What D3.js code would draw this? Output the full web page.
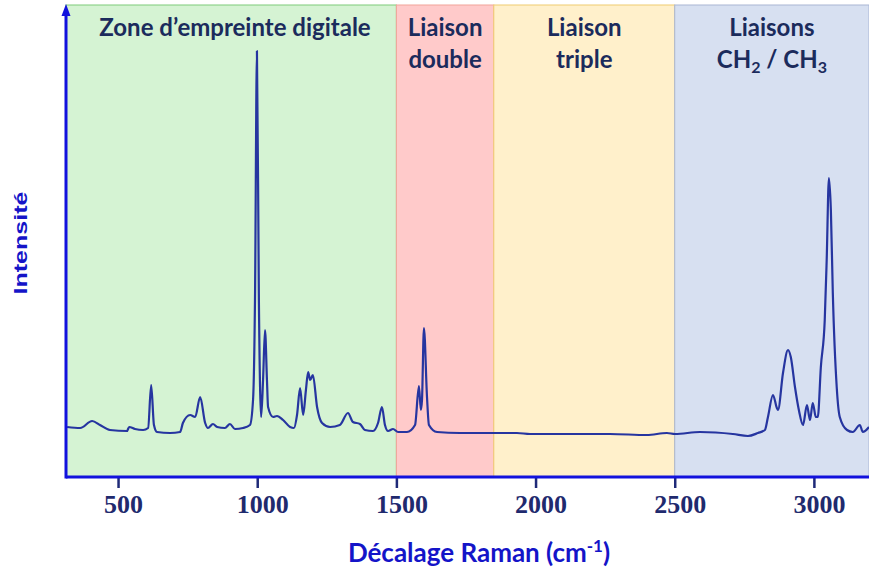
<!DOCTYPE html>
<html>
<head>
<meta charset="utf-8">
<script src="https://cdn.jsdelivr.net/npm/d3@7"></script>
<style>
  body { margin: 0; background: #fff; }
  svg { display: block; }
</style>
</head>
<body>
<script>
// Raman shift (cm-1) and intensity (arbitrary units)
var shift = [317, 364, 407, 435, 471, 532, 540, 561, 590, 608, 619, 629, 640, 687, 723, 733, 759, 777, 795, 813,
  823, 841, 856, 884, 902, 920, 949, 974, 985, 992, 999, 1006, 1014, 1021, 1028, 1035, 1039, 1057, 1071, 1093,
  1118, 1132, 1143, 1154, 1165, 1175, 1183, 1190, 1200, 1215, 1233, 1262, 1297, 1326, 1344, 1369, 1387, 1416, 1434, 1448,
  1459, 1470, 1488, 1506, 1538, 1567, 1581, 1588, 1592, 1599, 1610, 1617, 1646, 1728, 1800, 1854, 1933, 1980, 2113, 2267,
  2400, 2472, 2501, 2591, 2709, 2763, 2799, 2824, 2835, 2853, 2867, 2871, 2889, 2907, 2917, 2932, 2946, 2961, 2975, 2986,
  2996, 3007, 3014, 3025, 3039, 3046, 3054, 3061, 3068, 3082, 3093, 3119, 3140, 3165, 3176, 3198];
var intensity = [51, 50, 57, 53, 48, 47, 51, 49, 48, 50, 93, 53, 46, 45, 46, 55, 63, 61, 81, 55,
  50, 54, 51, 50, 54, 49, 50, 53, 78, 178, 427, 178, 61, 98, 148, 98, 71, 61, 62, 58,
  51, 50, 63, 90, 63, 88, 106, 98, 103, 71, 55, 51, 53, 65, 56, 54, 48, 47, 55, 71,
  53, 47, 49, 46, 46, 53, 92, 68, 78, 150, 81, 53, 46, 45, 45, 45, 45, 44, 44, 44,
  43, 45, 44, 46, 44, 42, 45, 48, 61, 83, 70, 68, 105, 128, 121, 91, 68, 53, 73, 58,
  75, 61, 61, 111, 158, 218, 300, 268, 185, 91, 61, 48, 46, 53, 46, 51];

// spectral zones
var zoneStart = [250, 1500, 1850, 2500];
var zoneEnd = [1500, 1850, 2500, 3200];
var zoneFill = ["#d5f3d3", "#ffcaca", "#fff0cb", "#d7e0f1"];
var zoneStroke = ["#7fcc7a", "#f2a49a", "#f0cc70", "#a9b6d4"];
var zoneLabels = [["Zone d\u2019empreinte digitale"], ["Liaison", "double"], ["Liaison", "triple"], ["Liaisons", "CH2 / CH3"]];

var tickValues = [500, 1000, 1500, 2000, 2500, 3000];

var w = 869, h = 572;
var mLeft = 66, mRight = 869, mTop = 5, mBottom = 477;

var x = d3.scaleLinear().domain([313, 3198]).range([mLeft, mRight]);
var y = d3.scaleLinear().domain([0, 473]).range([mBottom + 1, mTop]);

var svg = d3.select("body").append("svg")
    .attr("width", w)
    .attr("height", h);

// zone backgrounds
svg.selectAll("rect.zone")
    .data(zoneStart)
    .enter()
    .append("rect")
    .attr("class", "zone")
    .attr("x", function (d) { return Math.max(mLeft, x(d)); })
    .attr("y", mTop)
    .attr("width", function (d, i) { return Math.min(mRight, x(zoneEnd[i])) - Math.max(mLeft, x(d)); })
    .attr("height", mBottom - mTop)
    .attr("fill", function (d, i) { return zoneFill[i]; })
    .attr("stroke", function (d, i) { return zoneStroke[i]; })
    .attr("stroke-width", 1);

// zone labels
svg.selectAll("text.zlab")
    .data(zoneLabels)
    .enter()
    .append("text")
    .attr("class", "zlab")
    .attr("x", function (d, i) {
        var a = Math.max(mLeft, x(zoneStart[i])), b = Math.min(mRight, x(zoneEnd[i]));
        return i == 0 ? 235 : (a + b) / 2;
    })
    .attr("y", 36)
    .attr("text-anchor", "middle")
    .style("font-family", "Lato, 'Open Sans', sans-serif")
    .style("font-weight", "bold")
    .style("font-size", "24px")
    .style("fill", "#1b2b5c")
    .each(function (d) {
        var t = d3.select(this);
        d.forEach(function (line, k) {
            var ts = t.append("tspan").attr("x", t.attr("x")).attr("dy", k == 0 ? 0 : 32);
            if (line == "CH2 / CH3") {
                ts.text("CH");
                t.append("tspan").attr("dy", 5).style("font-size", "16px").text("2");
                t.append("tspan").attr("dy", -5).text(" / CH");
                t.append("tspan").attr("dy", 5).style("font-size", "16px").text("3");
            } else {
                ts.text(line);
            }
        });
    });

// spectrum
var line = d3.line()
    .x(function (d, i) { return x(shift[i]); })
    .y(function (d) { return y(d); })
    .curve(d3.curveMonotoneX);

svg.append("path")
    .datum(intensity)
    .attr("d", line)
    .attr("fill", "none")
    .attr("stroke", "#2635a0")
    .attr("stroke-width", 2.2)
    .attr("stroke-linejoin", "round");

// x axis
var xAxis = d3.axisBottom(x)
    .tickValues(tickValues)
    .tickSize(11)
    .tickPadding(8)
    .tickFormat(d3.format("d"));

var gx = svg.append("g")
    .attr("transform", "translate(0," + mBottom + ")")
    .call(xAxis);
gx.select(".domain").remove();
gx.selectAll(".tick line").attr("stroke", "#1f2a78").attr("stroke-width", 2.5);
gx.selectAll(".tick text")
    .attr("dx", 5)
    .attr("y", 36)
    .attr("dy", 0)
    .style("font-family", "'Liberation Serif', 'Times New Roman', serif")
    .style("font-weight", "bold")
    .style("font-size", "26px")
    .style("fill", "#1f2a6e");

svg.append("line")
    .attr("x1", mLeft).attr("x2", mRight)
    .attr("y1", mBottom).attr("y2", mBottom)
    .attr("stroke", "#1212dd")
    .attr("stroke-width", 3);

// y axis with arrow
svg.append("line")
    .attr("x1", mLeft).attr("x2", mLeft)
    .attr("y1", mBottom + 1.5).attr("y2", 14)
    .attr("stroke", "#1212dd")
    .attr("stroke-width", 3);
svg.append("path")
    .attr("d", "M" + (mLeft - 4.5) + ",16 L" + mLeft + ",4 L" + (mLeft + 4.5) + ",16 Z")
    .attr("fill", "#1212dd");

// axis titles
var xt = svg.append("text")
    .attr("x", 479)
    .attr("y", 562)
    .attr("text-anchor", "middle")
    .style("font-family", "Lato, 'Open Sans', sans-serif")
    .style("font-weight", "bold")
    .style("font-size", "26px")
    .style("fill", "#1414c8");
xt.append("tspan").text("D\u00e9calage Raman (cm");
xt.append("tspan").attr("dy", -10).style("font-size", "17px").text("-1");
xt.append("tspan").attr("dy", 10).text(")");

svg.append("text")
    .attr("transform", "translate(27,243) rotate(-90)")
    .attr("text-anchor", "middle")
    .attr("textLength", 103)
    .attr("lengthAdjust", "spacingAndGlyphs")
    .style("font-family", "'Liberation Sans', Arial, sans-serif")
    .style("font-weight", "bold")
    .style("font-size", "19px")
    .style("fill", "#1414c8")
    .text("Intensit\u00e9");
</script>
</body>
</html>
